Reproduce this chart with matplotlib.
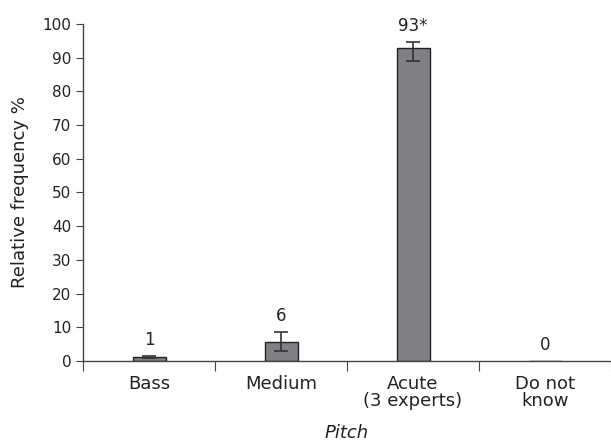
import numpy as np
import matplotlib.pyplot as plt

categories = ["Bass", "Medium", "Acute\n(3 experts)", "Do not\nknow"]
values = [1.3, 5.8, 92.8, 0.0]
err_low = [0.35, 2.9, 3.8, 0.0]
err_high = [0.35, 2.9, 1.9, 0.0]
labels = ["1", "6", "93*", "0"]

fig = plt.figure(figsize=(6.11, 4.41), dpi=100)
ax = fig.add_axes([0.136, 0.181, 0.864, 0.765])

x = np.arange(len(categories))
ax.bar(x, values, width=0.25, color="#808084", edgecolor="#222222", linewidth=1.0)
ax.errorbar(x[:3], values[:3], yerr=[err_low[:3], err_high[:3]], fmt="none",
            ecolor="#333333", elinewidth=1.2, capsize=5, capthick=1.2)

for i in range(len(x)):
    top = values[i] + err_high[i]
    ax.annotate(labels[i], (x[i], top), xytext=(0, 5), textcoords="offset points",
                ha="center", va="bottom", fontsize=12, color="#222222")

ax.set_xlim(-0.5, 3.5)
ax.set_ylim(0, 100)
ax.set_yticks(range(0, 101, 10))
ax.set_xticks([-0.5, 0.5, 1.5, 2.5, 3.5])
ax.set_xticklabels([])
ax.set_xticks(x, minor=True)
ax.set_xticklabels(categories, minor=True, fontsize=13, color="#222222", linespacing=0.95)
ax.tick_params(axis="x", which="minor", length=0, pad=10)
ax.tick_params(axis="x", which="major", length=7, direction="out", color="#444444")
ax.tick_params(axis="y", length=5, direction="out", labelsize=11, labelcolor="#222222", color="#444444")

for s in ["top", "right"]:
    ax.spines[s].set_visible(False)
for s in ["left", "bottom"]:
    ax.spines[s].set_color("#444444")
    ax.spines[s].set_linewidth(1.0)
ax.spines["bottom"].set_clip_on(False)

ax.set_ylabel("Relative frequency %", fontsize=13, color="#222222", labelpad=10)
ax.set_xlabel("Pitch", fontsize=13, style="italic", color="#222222", labelpad=10)

fig.savefig("out.png", dpi=100)
